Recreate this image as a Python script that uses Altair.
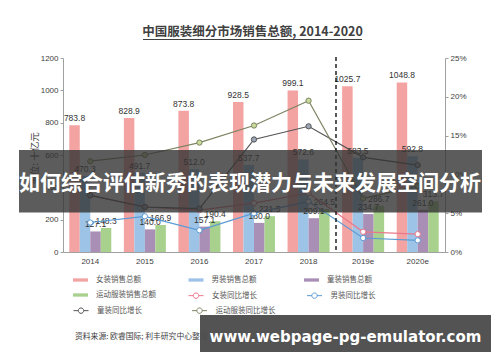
import altair as alt
import pandas as pd

# ---------------- data ----------------
years = ["2014", "2015", "2016", "2017", "2018", "2019e", "2020e"]

bar_series = ["女装销售总额", "男装销售总额", "童装销售总额", "运动服装销售总额"]
women_sales = [783.8, 828.9, 873.8, 928.5, 999.1, 1025.7, 1048.8]
men_sales = [470.3, 491.7, 512.0, 537.7, 572.6, 583.5, 592.8]
kids_sales = [127.1, 140.0, 157.1, 180.0, 209.1, 234.7, 261.0]
sports_sales = [148.3, 166.9, 190.4, 221.5, 264.5, 286.7, 313.7]

line_series = ["女装同比增长", "男装同比增长", "童装同比增长", "运动服装同比增长"]
women_growth = [7.3, 5.8, 5.4, 6.3, 7.6, 2.6, 2.3]
men_growth = [3.8, 4.6, 2.8, 5.0, 6.5, 1.8, 1.5]
kids_growth = [7.3, 5.8, 5.6, 14.5, 16.2, 12.2, 11.2]
sports_growth = [11.7, 12.5, 14.1, 16.3, 19.5, 6.9, 8.5]

left_ticks = [0, 200, 400, 600, 800, 1000, 1200]
right_ticks = [0, 5, 10, 15, 20, 25]

title_text = "中国服装细分市场销售总额, 2014-2020"
y_title = "单位: 十亿元"
source_text = "资料来源: 欧睿国际; 利丰研究中心整理"
banner_text = "如何综合评估新秀的表现潜力与未来发展空间分析"
watermark_text = "www.webpage-pg-emulator.com"

bar_colors = ["#F4A3A3", "#9DC3E6", "#A98EB5", "#A9D18E"]
line_colors = ["#E8798C", "#5B9BD5", "#555555", "#7C8461"]
marker_fills = ["#FFFFFF", "#FFFFFF", "#9AA5B5", "#C8DA9C"]

CJK = "Noto Sans CJK SC"
NUM = "Liberation Sans"

# ---------------- tables ----------------
bar_rows = []
for s, vals in zip(bar_series, [women_sales, men_sales, kids_sales, sports_sales]):
    for yr, v in zip(years, vals):
        bar_rows.append({"year": yr, "series": s, "value": v, "label": f"{v:.1f}"})
bars_df = pd.DataFrame(bar_rows)

line_rows = []
for s, vals in zip(line_series, [women_growth, men_growth, kids_growth, sports_growth]):
    for yr, v in zip(years, vals):
        line_rows.append({"year": yr, "series": s, "pct": v})
lines_df = pd.DataFrame(line_rows)

BAR_PATH = "M-1,-0.22H1V0.22H-1Z"
LINE_PATH = ("M-1,0H-0.36M0.36,0H1M-0.36,0A0.36,0.36,0,1,1,0.36,0"
             "A0.36,0.36,0,1,1,-0.36,0Z")

X = alt.X(
    "year:N", sort=years,
    scale=alt.Scale(domain=years, paddingInner=0.23, paddingOuter=0.115),
    axis=alt.Axis(title=None, labelAngle=0, ticks=False, labelPadding=5,
                  labelFontSize=8, labelFont=NUM, labelColor="#404040",
                  domainColor="#A0A0A0", grid=False),
)
XO = alt.XOffset("series:N", sort=bar_series,
                 scale=alt.Scale(domain=bar_series, paddingInner=0, paddingOuter=0))
YL = alt.Y(
    "value:Q", scale=alt.Scale(domain=[0, 1200], nice=False),
    axis=alt.Axis(values=left_ticks, format="d", title=y_title, titleFont=CJK,
                  titleFontSize=9.5, titleFontWeight="normal", titleColor="#404040",
                  titleAngle=-90, titleX=-29, titleY=100, titleAlign="center",
                  titleBaseline="middle", labelFontSize=8, labelFont=NUM,
                  labelColor="#404040", tickSize=3, labelPadding=2,
                  domainColor="#A0A0A0", tickColor="#A0A0A0", grid=False),
)
YR = alt.Y(
    "pct:Q", scale=alt.Scale(domain=[0, 25], nice=False),
    axis=alt.Axis(orient="right", values=right_ticks, labelExpr="datum.value + '%'",
                  title=None, labelFontSize=8, labelFont=NUM, labelColor="#404040",
                  tickSize=3, labelPadding=2, domainColor="#A0A0A0",
                  tickColor="#A0A0A0", grid=False),
)


def legend(x, y, cols, path, stroke_w, fill_color=None):
    kw = dict(orient="none", legendX=x, legendY=y, columns=cols,
              direction="horizontal", title=None, symbolType=path,
              symbolSize=225, labelFontSize=7.5, labelFont=CJK,
              labelColor="#595959", labelOffset=8, columnPadding=47.5,
              padding=0, symbolStrokeWidth=stroke_w, symbolOpacity=1,
              labelLimit=200)
    if fill_color:
        kw["symbolFillColor"] = fill_color
    return alt.Legend(**kw)


# ---------------- bars ----------------
bars1 = alt.Chart(bars_df[bars_df.series.isin(bar_series[:3])]).mark_bar().encode(
    x=X, xOffset=XO, y=YL,
    color=alt.Color("series:N", sort=bar_series[:3],
                    scale=alt.Scale(domain=bar_series[:3], range=bar_colors[:3]),
                    legend=legend(10, 214.5, 3, BAR_PATH, 0)),
)
bars2 = alt.Chart(bars_df[bars_df.series == bar_series[3]]).mark_bar().encode(
    x=X, xOffset=XO, y=YL,
    color=alt.Color("series:N",
                    scale=alt.Scale(domain=bar_series[3:], range=bar_colors[3:]),
                    legend=legend(10, 229.5, 1, BAR_PATH, 0)),
)
bar_labels = alt.Chart(bars_df).mark_text(
    baseline="bottom", dy=-2, fontSize=8.5, font=NUM, color="#333333"
).encode(x=X, xOffset=XO, y=YL, text="label:N")

left = alt.layer(bars1, bars2, bar_labels).resolve_scale(color="independent")


# ---------------- lines ----------------
def line_group(names, lx, ly):
    d = lines_df[lines_df.series.isin(names)]
    idx = [line_series.index(n) for n in names]
    col = alt.Color("series:N", sort=names,
                    scale=alt.Scale(domain=names, range=[line_colors[i] for i in idx]),
                    legend=legend(lx, ly, 2, LINE_PATH, 1, "white"))
    ln = alt.Chart(d).mark_line(strokeWidth=1.2).encode(x=X, y=YR, color=col)
    pt = alt.Chart(d).mark_point(filled=True, size=28, strokeWidth=1, opacity=1,
                                 shape="circle").encode(
        x=X, y=YR,
        fill=alt.Fill("series:N",
                      scale=alt.Scale(domain=line_series, range=marker_fills),
                      legend=None),
        stroke=alt.Stroke("series:N",
                          scale=alt.Scale(domain=line_series, range=line_colors),
                          legend=None),
    )
    return alt.layer(ln, pt)


lines_ab = line_group(line_series[:2], 125, 229.5)
lines_cd = line_group(line_series[2:], 10, 244.5)
right = alt.layer(lines_ab, lines_cd).resolve_scale(color="independent")

# ---------------- decorations ----------------
one = pd.DataFrame({"k": [1]})

divider = alt.Chart(one).mark_rule(color="black", strokeDash=[4, 3], strokeWidth=1.3).encode(
    x=alt.value(273), y=alt.value(-1), y2=alt.value(194))

title = alt.Chart(one).mark_text(
    text=title_text, font=CJK, fontSize=12.5, fontWeight="bold", color="#404040",
    align="center", baseline="middle").encode(x=alt.value(189.5), y=alt.value(-26))
underline = alt.Chart(one).mark_rule(color="#404040", strokeWidth=1).encode(
    x=alt.value(80), x2=alt.value(299), y=alt.value(-18.5))

banner = alt.Chart(one).mark_rect(color="#333333", opacity=0.8).encode(
    x=alt.value(-44), x2=alt.value(419), y=alt.value(92), y2=alt.value(154.5))
banner_t = alt.Chart(one).mark_text(
    text=banner_text, font=CJK, fontSize=21, fontWeight="bold", color="white",
    align="center", baseline="middle").encode(x=alt.value(187), y=alt.value(126))

source = alt.Chart(one).mark_text(
    text=source_text, font=CJK, fontSize=7.8, color="#404040",
    align="left", baseline="middle").encode(x=alt.value(12), y=alt.value(279))
wm_box = alt.Chart(one).mark_rect(color="#4D4D4D", opacity=0.97).encode(
    x=alt.value(137), x2=alt.value(428), y=alt.value(257), y2=alt.value(294))
wm_text = alt.Chart(one).mark_text(
    text=watermark_text, font="DejaVu Sans", fontSize=15, fontWeight="bold",
    color="white", align="center", baseline="middle").encode(
    x=alt.value(282.5), y=alt.value(278.5))

chart = alt.layer(
    left, right, divider, title, underline, banner, banner_t, source, wm_box, wm_text
).resolve_scale(y="independent", color="independent").properties(
    width=382, height=194,
    autosize=alt.AutoSizeParams(type="none"),
    padding={"left": 63, "top": 58, "right": 55, "bottom": 110},
    background="white",
).configure_view(stroke=None)

chart.save("out.html", embed_options={"renderer": "svg", "actions": False})
